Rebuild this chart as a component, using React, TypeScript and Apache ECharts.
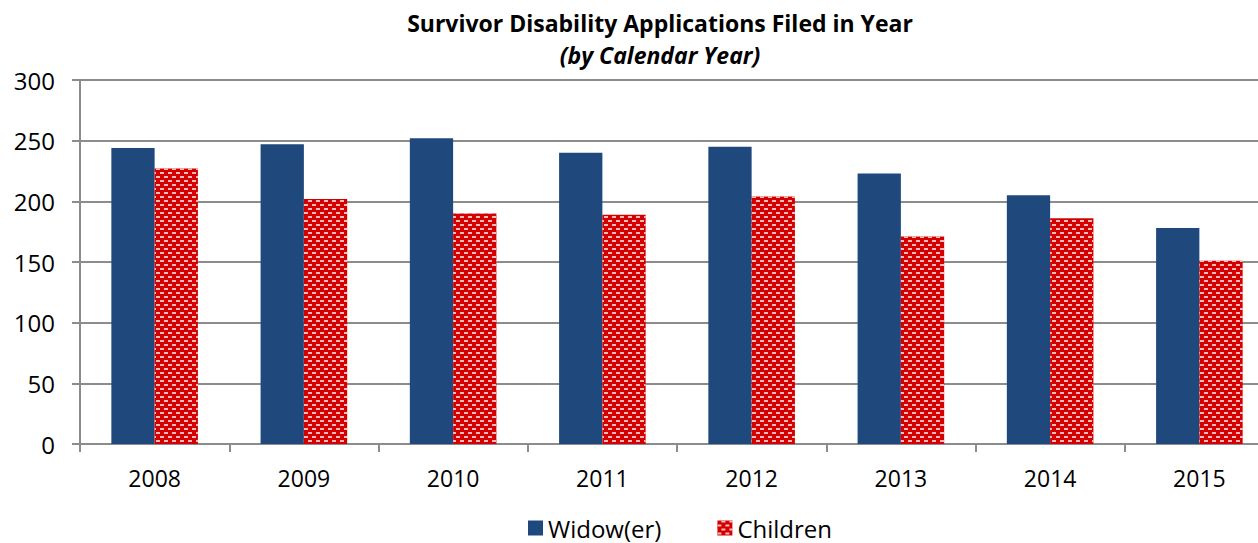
import React, { useEffect, useRef } from "react";
import * as echarts from "echarts";

const years = ["2008", "2009", "2010", "2011", "2012", "2013", "2014", "2015"];
const widowValues = [244, 247, 252, 240, 245, 223, 205, 178];
const childrenValues = [227, 202, 190, 189, 204, 171, 186, 151];
const yTicks = { min: 0, max: 300, interval: 50 };

const FONT = "'Open Sans', 'Noto Sans', sans-serif";

export default function App() {
  const ref = useRef<HTMLDivElement>(null);
  useEffect(() => {
    if (!ref.current) return;
    const chart = echarts.init(ref.current, undefined, { renderer: "svg" });
    const childDecal = {
      symbol: "rect",
      symbolSize: 1,
      color: "rgba(255,220,220,0.85)",
      dashArrayX: [
        [4, 4],
        [0, 4, 4, 0],
      ],
      dashArrayY: [2, 2],
      rotation: 0,
    };
    chart.setOption({
      animation: false,
      backgroundColor: "#ffffff",
      textStyle: { fontFamily: FONT },
      graphic: [
        {
          type: "text",
          x: 660,
          y: 23,
          style: {
            text: "Survivor Disability Applications Filed in Year",
            font: `bold 23px ${FONT}`,
            fill: "#000",
            textAlign: "center",
            textVerticalAlign: "middle",
          },
        },
        {
          type: "text",
          x: 660,
          y: 55,
          style: {
            text: "(by Calendar Year)",
            font: `italic bold 23px ${FONT}`,
            fill: "#000",
            textAlign: "center",
            textVerticalAlign: "middle",
          },
        },
      ],
      legend: {
        bottom: -2,
        left: 523,
        itemWidth: 15,
        itemHeight: 15,
        itemGap: 56,
        icon: "rect",
        textStyle: { fontFamily: FONT, fontSize: 24, color: "#000" },
        data: ["Widow(er)", "Children"],
      },
      grid: { left: 80, right: 0, top: 80, bottom: 99, containLabel: false },
      xAxis: {
        type: "category",
        data: years,
        axisLine: { show: true, lineStyle: { color: "#8c8c8c", width: 2 } },
        axisTick: { show: true, length: 8, alignWithLabel: false, lineStyle: { color: "#8c8c8c", width: 2 } },
        axisLabel: { fontFamily: FONT, fontSize: 23, color: "#000", margin: 22 },
      },
      yAxis: {
        type: "value",
        min: yTicks.min,
        max: yTicks.max,
        interval: yTicks.interval,
        axisLine: { show: true, lineStyle: { color: "#8c8c8c", width: 2 } },
        axisTick: { show: true, length: 8, lineStyle: { color: "#8c8c8c", width: 2 } },
        splitLine: { show: true, lineStyle: { color: "#8c8c8c", width: 2 } },
        axisLabel: { fontFamily: FONT, fontSize: 24, color: "#000", margin: 25 },
      },
      series: [
        {
          name: "Widow(er)",
          type: "bar",
          data: widowValues,
          barGap: "0%",
          barCategoryGap: "42%",
          itemStyle: { color: "#1F497D" },
        },
        {
          name: "Children",
          type: "bar",
          data: childrenValues,
          barGap: "0%",
          barCategoryGap: "42%",
          itemStyle: { color: "#D40000", decal: childDecal },
        },
      ],
    });
    return () => chart.dispose();
  }, []);
  return (
    <div
      style={{ position: "fixed", left: 0, top: 0, width: 1258, height: 543, overflow: "hidden" }}
    >
      <div ref={ref} style={{ width: 1274, height: 543 }} />
    </div>
  );
}
